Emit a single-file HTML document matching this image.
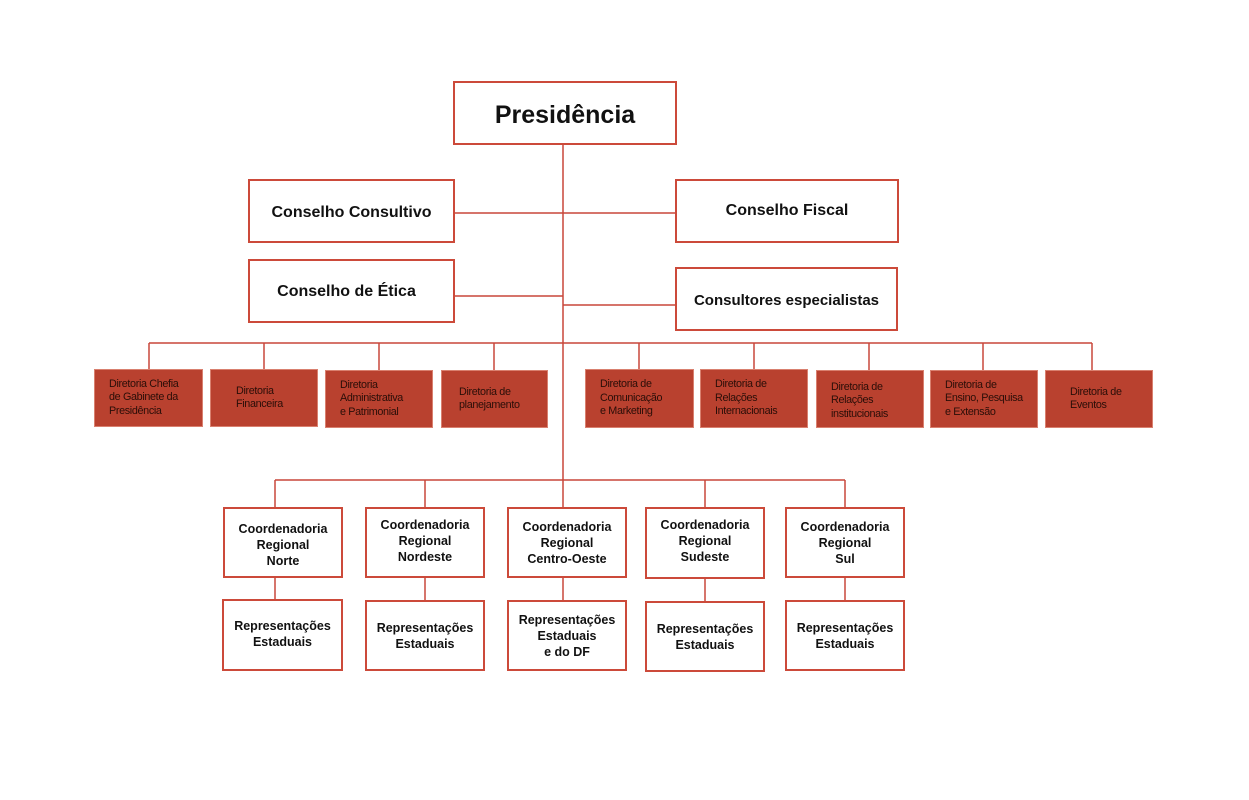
<!DOCTYPE html>
<html><head><meta charset="utf-8"><style>
body{margin:0;width:1249px;height:800px;background:#fff;position:relative;overflow:hidden;font-family:"Liberation Sans",sans-serif}
.b{position:absolute;box-sizing:border-box;border:2px solid #cc4a3a;background:#fff;display:flex;align-items:center;justify-content:center;text-align:center;font-weight:bold;color:#111}
.d{position:absolute;box-sizing:border-box;background:#b9412f;border:1px solid #d9806f;display:flex;align-items:center;justify-content:flex-start;padding-left:14px;font-size:10.8px;line-height:13.5px;color:#2a0e08;letter-spacing:-0.35px}
.c{font-size:12.5px;line-height:16px}
svg{position:absolute;left:0;top:0}
</style></head><body>
<svg width="1249" height="800"><g stroke="#c8473a" stroke-width="1.5" fill="none">
<line x1="563" y1="144" x2="563" y2="480"/>
<line x1="454" y1="213" x2="675" y2="213"/>
<line x1="454" y1="296" x2="563" y2="296"/>
<line x1="563" y1="305" x2="675" y2="305"/>
<line x1="149" y1="343" x2="1092" y2="343"/>
<line x1="149" y1="343" x2="149" y2="369"/><line x1="264" y1="343" x2="264" y2="369"/><line x1="379" y1="343" x2="379" y2="370"/><line x1="494" y1="343" x2="494" y2="370"/><line x1="639" y1="343" x2="639" y2="369"/><line x1="754" y1="343" x2="754" y2="369"/><line x1="869" y1="343" x2="869" y2="370"/><line x1="983" y1="343" x2="983" y2="370"/><line x1="1092" y1="343" x2="1092" y2="370"/>
<line x1="275" y1="480" x2="845" y2="480"/>
<line x1="275" y1="480" x2="275" y2="600"/><line x1="425" y1="480" x2="425" y2="600"/><line x1="563" y1="480" x2="563" y2="600"/><line x1="705" y1="480" x2="705" y2="601"/><line x1="845" y1="480" x2="845" y2="600"/>
</g></svg>
<div class="b" style="left:453px;top:81px;width:224px;height:64px;font-size:25px;padding-top:4px">Presidência</div>
<div class="b" style="left:248px;top:179px;width:207px;height:64px;font-size:16px;padding-top:4px">Conselho Consultivo</div>
<div class="b" style="left:675px;top:179px;width:224px;height:64px;font-size:16px">Conselho Fiscal</div>
<div class="b" style="left:248px;top:259px;width:207px;height:64px;font-size:16px;padding-right:10px;padding-top:2px">Conselho de Ética</div>
<div class="b" style="left:675px;top:267px;width:223px;height:64px;font-size:15px;padding-top:2px">Consultores especialistas</div>

<div class="d" style="left:94px;top:369px;width:109px;height:58px">Diretoria Chefia<br>de Gabinete da<br>Presidência</div>
<div class="d" style="left:210px;top:369px;width:108px;height:58px;padding-left:25px">Diretoria<br>Financeira</div>
<div class="d" style="left:325px;top:370px;width:108px;height:58px">Diretoria<br>Administrativa<br>e Patrimonial</div>
<div class="d" style="left:441px;top:370px;width:107px;height:58px;padding-left:17px">Diretoria de<br>planejamento</div>
<div class="d" style="left:585px;top:369px;width:109px;height:59px">Diretoria de<br>Comunicação<br>e Marketing</div>
<div class="d" style="left:700px;top:369px;width:108px;height:59px">Diretoria de<br>Relações<br>Internacionais</div>
<div class="d" style="left:816px;top:370px;width:108px;height:58px;padding-top:4px">Diretoria de<br>Relações<br>institucionais</div>
<div class="d" style="left:930px;top:370px;width:108px;height:58px">Diretoria de<br>Ensino, Pesquisa<br>e Extensão</div>
<div class="d" style="left:1045px;top:370px;width:108px;height:58px;padding-left:24px">Diretoria de<br>Eventos</div>

<div class="b c" style="left:223px;top:507px;width:120px;height:71px;padding-top:4px">Coordenadoria<br>Regional<br>Norte</div>
<div class="b c" style="left:365px;top:507px;width:120px;height:71px;padding-bottom:4px">Coordenadoria<br>Regional<br>Nordeste</div>
<div class="b c" style="left:507px;top:507px;width:120px;height:71px">Coordenadoria<br>Regional<br>Centro-Oeste</div>
<div class="b c" style="left:645px;top:507px;width:120px;height:72px;padding-bottom:4px">Coordenadoria<br>Regional<br>Sudeste</div>
<div class="b c" style="left:785px;top:507px;width:120px;height:71px">Coordenadoria<br>Regional<br>Sul</div>

<div class="b c" style="left:222px;top:599px;width:121px;height:72px;padding-bottom:3px">Representações<br>Estaduais</div>
<div class="b c" style="left:365px;top:600px;width:120px;height:71px">Representações<br>Estaduais</div>
<div class="b c" style="left:507px;top:600px;width:120px;height:71px">Representações<br>Estaduais<br>e do DF</div>
<div class="b c" style="left:645px;top:601px;width:120px;height:71px">Representações<br>Estaduais</div>
<div class="b c" style="left:785px;top:600px;width:120px;height:71px">Representações<br>Estaduais</div>
</body></html>
